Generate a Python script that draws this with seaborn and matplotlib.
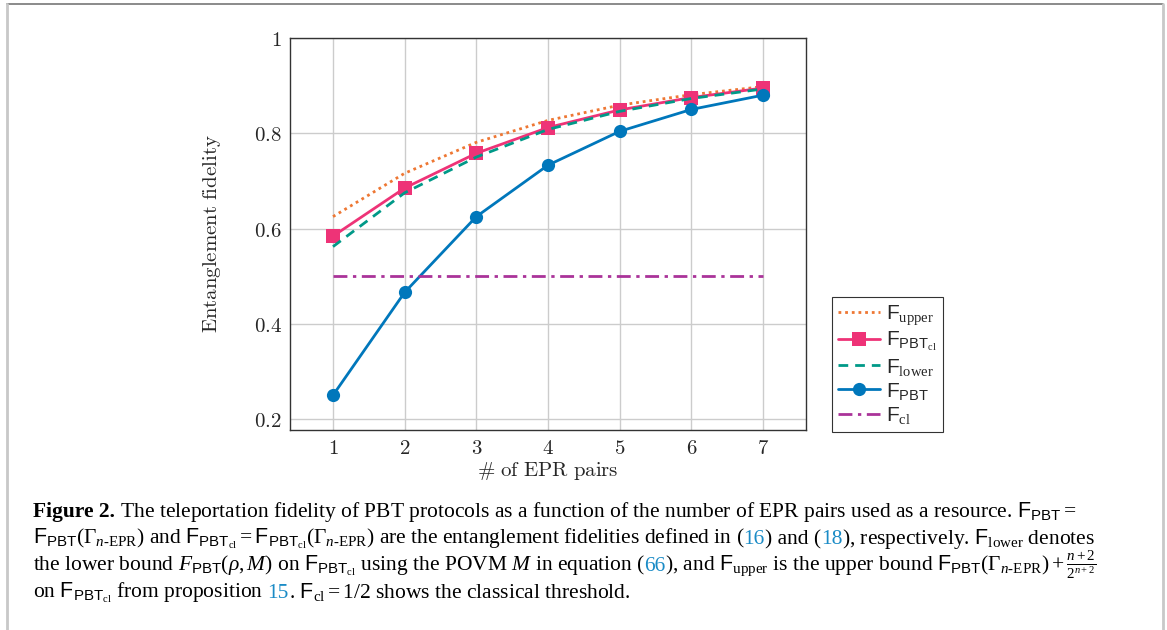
import numpy as np
import pandas as pd
import matplotlib
matplotlib.use('Agg')
import matplotlib.pyplot as plt
from matplotlib.lines import Line2D
import seaborn as sns

# Data
n_pairs = [1, 2, 3, 4, 5, 6, 7]
f_upper = [0.625, 0.716, 0.781, 0.827, 0.859, 0.881, 0.898]
f_pbt_cl = [0.584, 0.685, 0.758, 0.812, 0.849, 0.875, 0.895]
f_lower = [0.562, 0.675, 0.750, 0.808, 0.846, 0.873, 0.893]
f_pbt = [0.250, 0.466, 0.625, 0.733, 0.804, 0.850, 0.880]
f_cl = [0.5, 0.5, 0.5, 0.5, 0.5, 0.5, 0.5]

y_ticks = [0.2, 0.4, 0.6, 0.8, 1.0]
y_tick_labels = ['$0.2$', '$0.4$', '$0.6$', '$0.8$', '$1$']

sns.set_style('whitegrid')
plt.rcParams['mathtext.fontset'] = 'custom'
plt.rcParams['mathtext.rm'] = 'Liberation Serif'
plt.rcParams['mathtext.it'] = 'Liberation Serif:italic'
plt.rcParams['mathtext.bf'] = 'Liberation Serif:bold'
plt.rcParams['mathtext.sf'] = 'Liberation Sans'

W, H = 1167, 630
fig = plt.figure(figsize=(W / 100, H / 100), dpi=100)
ax = fig.add_axes([290 / W, 1 - 430 / H, 516 / W, 392 / H])

series = [
    (f_upper, r'$\mathsf{F}_{\mathrm{upper}}$', '#EE7733', (0, (1, 1.4)), None),
    (f_pbt_cl, r'$\mathsf{F}_{\mathsf{PBT}_{\mathrm{cl}}}$', '#EE3377', '-', 's'),
    (f_lower, r'$\mathsf{F}_{\mathrm{lower}}$', '#009988', (0, (3.5, 2.5)), None),
    (f_pbt, r'$\mathsf{F}_{\mathsf{PBT}}$', '#0077BB', '-', 'o'),
    (f_cl, r'$\mathsf{F}_{\mathrm{cl}}$', '#AA3399', (0, (5, 2, 1.2, 2)), None),
]
for vals, lab, col, ls, mk in series:
    df = pd.DataFrame({'n': n_pairs, 'F': vals})
    sns.lineplot(data=df, x='n', y='F', ax=ax, color=col, linestyle=ls,
                 marker=mk, markersize=9.5, markeredgewidth=0, lw=2,
                 label=lab, legend=False)

ax.set_xlim(0.4, 7.6)
ax.set_ylim(0.177, 1.0)
ax.set_xticks(n_pairs)
ax.set_xticklabels(['$%d$' % n for n in n_pairs], math_fontfamily='cm', fontsize=15)
ax.set_yticks(y_ticks)
ax.set_yticklabels(y_tick_labels, math_fontfamily='cm', fontsize=15)
ax.tick_params(length=0, pad=6)
ax.grid(True, color='#cccccc', lw=1)
for s in ax.spines.values():
    s.set_color('#333333')
    s.set_linewidth(1)
ax.set_xlabel(r'$\#\ \mathrm{of\ EPR\ pairs}$', math_fontfamily='cm', fontsize=15, labelpad=1)
ax.set_ylabel(r'$\mathrm{Entanglement\ fidelity}$', math_fontfamily='cm', fontsize=15, labelpad=22)

leg = ax.legend(loc='upper left', bbox_to_anchor=(832 / W, 1 - 297 / H),
                bbox_transform=fig.transFigure, fontsize=15, frameon=True,
                fancybox=False, edgecolor='black', handlelength=2.0,
                handletextpad=0.3, borderpad=0.3, labelspacing=0.15,
                borderaxespad=0)
leg.get_frame().set_linewidth(0.8)

# page frame
fig.add_artist(Line2D([7 / W, 1163 / W], [1 - 4 / H, 1 - 4 / H], color='#777777', lw=1.2, transform=fig.transFigure))
fig.add_artist(Line2D([7 / W, 7 / W], [0, 1 - 4 / H], color='#c8c8c8', lw=2, transform=fig.transFigure))
fig.add_artist(Line2D([1163 / W, 1163 / W], [0, 1 - 4 / H], color='#c8c8c8', lw=2, transform=fig.transFigure))

# caption, drawn piece by piece
blue = '#1a8bc6'
HY = '\u2010'
GAMMA = r'\Gamma_{n\mathrm{' + HY + 'EPR}}'
F_CL = r'$\mathsf{F}_{\mathsf{PBT}_{\mathrm{cl}}}$'
caption = [
    [('Figure 2.', 'k', 'bold'),
     (' The teleportation fidelity of PBT protocols as a function of the number of EPR pairs used as a resource. '
      + r'$\mathsf{F}_{\mathsf{PBT}} =$', 'k', 'normal')],
    [(r'$\mathsf{F}_{\mathsf{PBT}}(' + GAMMA + ')$ and '
      + r'$\mathsf{F}_{\mathsf{PBT}_{\mathrm{cl}}} = \mathsf{F}_{\mathsf{PBT}_{\mathrm{cl}}}(' + GAMMA + ')$'
      + ' are the entanglement fidelities defined in (', 'k', 'normal'),
     ('16', blue, 'normal'), (') and (', 'k', 'normal'), ('18', blue, 'normal'),
     ('), respectively. ' + r'$\mathsf{F}_{\mathrm{lower}}$' + ' denotes', 'k', 'normal')],
    [('the lower bound ' + r'$F_{\mathsf{PBT}}(\rho, M)$' + ' on ' + F_CL + ' using the POVM '
      + r'$M$' + ' in equation (', 'k', 'normal'),
     ('66', blue, 'normal'),
     ('), and ' + r'$\mathsf{F}_{\mathrm{upper}}$' + ' is the upper bound '
      + r'$\mathsf{F}_{\mathsf{PBT}}(' + GAMMA + r') + \frac{n+2}{2^{n+2}}$', 'k', 'normal')],
    [('on ' + F_CL + ' from proposition ', 'k', 'normal'), ('15', blue, 'normal'),
     ('. ' + r'$\mathsf{F}_{\mathrm{cl}} = 1/2$' + ' shows the classical threshold.', 'k', 'normal')],
]
baselines = [517, 544, 571, 598]
renderer = fig.canvas.get_renderer()


def text_width(s, wt):
    t = fig.text(0, 0, s, fontweight=wt, family='Liberation Serif', fontsize=15.5)
    w = t.get_window_extent(renderer=renderer).width
    t.remove()
    return w


bar_w = text_width('|', 'normal')
for line, yb in zip(caption, baselines):
    x = 33
    for txt, col, wt in line:
        fig.text(x / W, 1 - yb / H, txt, color=col, fontweight=wt,
                 family='Liberation Serif', fontsize=15.5, va='baseline', ha='left')
        x += text_width(txt + '|', wt) - bar_w

fig.savefig('out.png', dpi=100)
